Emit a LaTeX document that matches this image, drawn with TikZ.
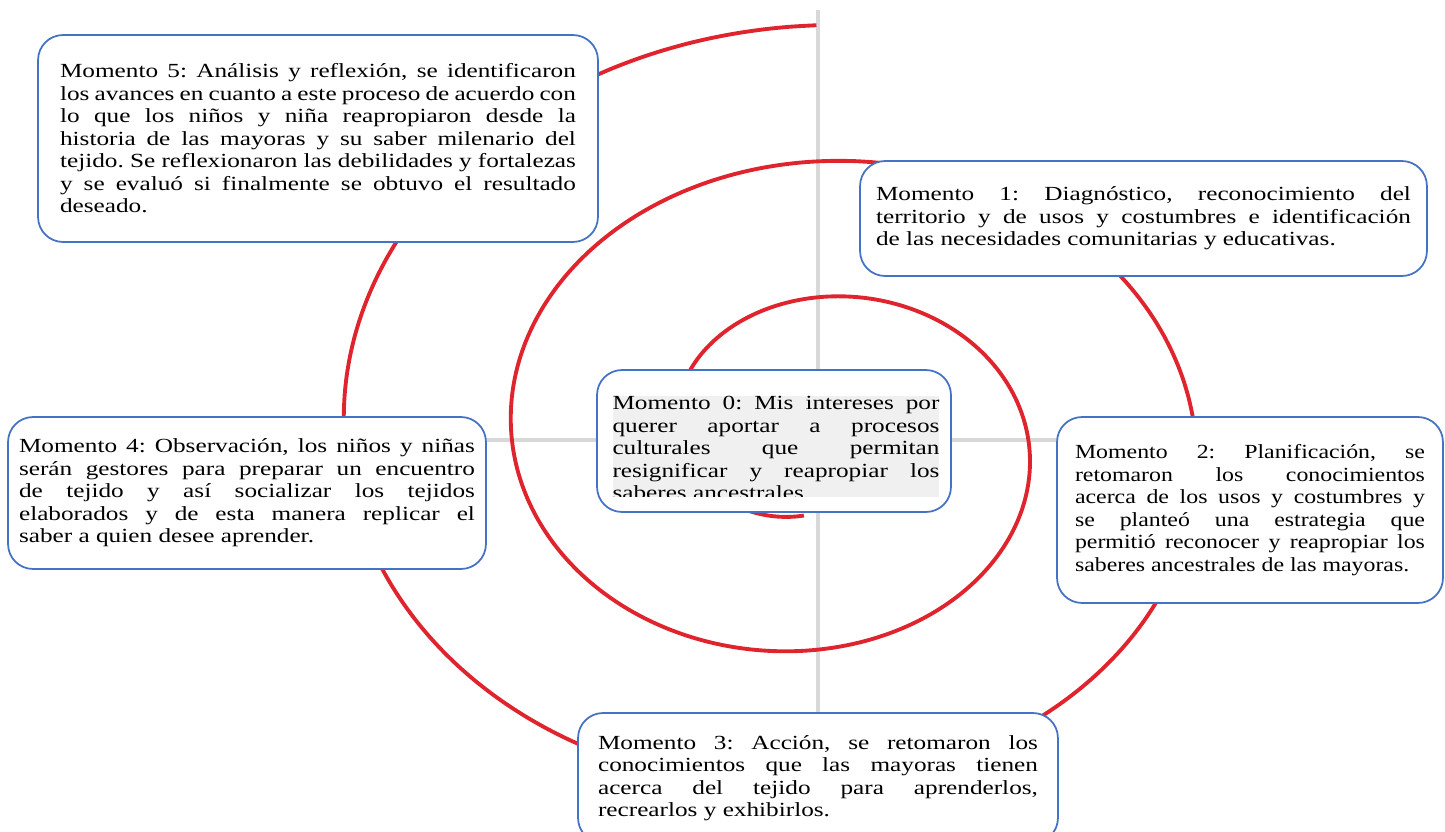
\documentclass[tikz,border=0pt]{standalone}
\usepackage{fontspec}
\setmainfont{Liberation Serif}[FakeStretch=1.26]
\newfontfamily\narrowserif{Liberation Serif}[FakeStretch=1.19]
\frenchspacing
\definecolor{spiralred}{RGB}{224,36,46}
\definecolor{boxblue}{RGB}{68,114,196}
\definecolor{axisgray}{RGB}{216,216,216}

\begin{document}
\begin{tikzpicture}[x=0.02cm,y=-0.02cm,
    momento/.style={draw=boxblue,line width=1pt,rounded corners=0.5cm,fill=white,
      inner sep=0pt,align=justify,font=\fontsize{11.4pt}{12.8pt}\selectfont}]
        \useasboundingbox (0,0) rectangle (1445,832);
        % Axes
        \draw[axisgray,line width=2pt] (818,10) -- (818,832);
        \draw[axisgray,line width=2pt] (300,440) -- (1300,440);
        % Spiral
        \draw[spiralred,line width=2.2pt] plot[domain=95:990.5,samples=300,smooth] ({812+(49+0.465*\x)*cos(\x)},{440+0.814*(49+0.465*\x)*sin(\x)});
        % Moments
        \node[momento,minimum width=11.2cm,minimum height=4.14cm,text width=10.32cm] (m5) at (318,138.5)
          {Momento 5: Análisis y reflexión, se identificaron\linebreak los avances en cuanto a este proceso de acuerdo con\linebreak lo que los niños y niña reapropiaron desde la\linebreak historia de las mayoras y su saber milenario del\linebreak tejido. Se reflexionaron las debilidades y fortalezas\linebreak y se evaluó si finalmente se obtuvo el resultado\linebreak deseado.};
        \node[momento,minimum width=11.34cm,minimum height=2.3cm,text width=10.7cm] (m1) at (1143.5,218.5)
          {Momento 1: Diagnóstico, reconocimiento del\linebreak territorio y de usos y costumbres e identificación\linebreak de las necesidades comunitarias y educativas.};
        \node[momento,minimum width=7.08cm,minimum height=2.84cm] (m0) at (774,441) {};
        \begin{scope}
          \clip (597,370) rectangle (951,496);
          \node[momento,draw=none,fill=black!6,rounded corners=0pt,text width=6.54cm] (m0text) at (776,448)
            {Momento 0: Mis intereses por\linebreak querer aportar a procesos\linebreak culturales que permitan\linebreak resignificar y reapropiar los\linebreak saberes ancestrales.};
        \end{scope}
        \node[momento,minimum width=9.56cm,minimum height=3.04cm,text width=9.12cm] (m4) at (247,493)
          {Momento 4: Observación, los niños y niñas\linebreak serán gestores para preparar un encuentro\linebreak de tejido y así socializar los tejidos\linebreak elaborados y de esta manera replicar el\linebreak saber a quien desee aprender.};
        \node[momento,minimum width=7.72cm,minimum height=3.72cm,text width=7.0cm,
          font=\narrowserif\fontsize{11.4pt}{12.8pt}\selectfont] (m2) at (1250,510)
          {Momento 2: Planificación, se\linebreak retomaron los conocimientos\linebreak acerca de los usos y costumbres y\linebreak se planteó una estrategia que\linebreak permitió reconocer y reapropiar los\linebreak saberes ancestrales de las mayoras.};
        \node[momento,minimum width=9.6cm,minimum height=2.6cm,text width=8.8cm] (m3) at (818,778)
          {Momento 3: Acción, se retomaron los\linebreak conocimientos que las mayoras tienen\linebreak acerca del tejido para aprenderlos,\linebreak recrearlos y exhibirlos.};
    \end{tikzpicture}
\end{document}
